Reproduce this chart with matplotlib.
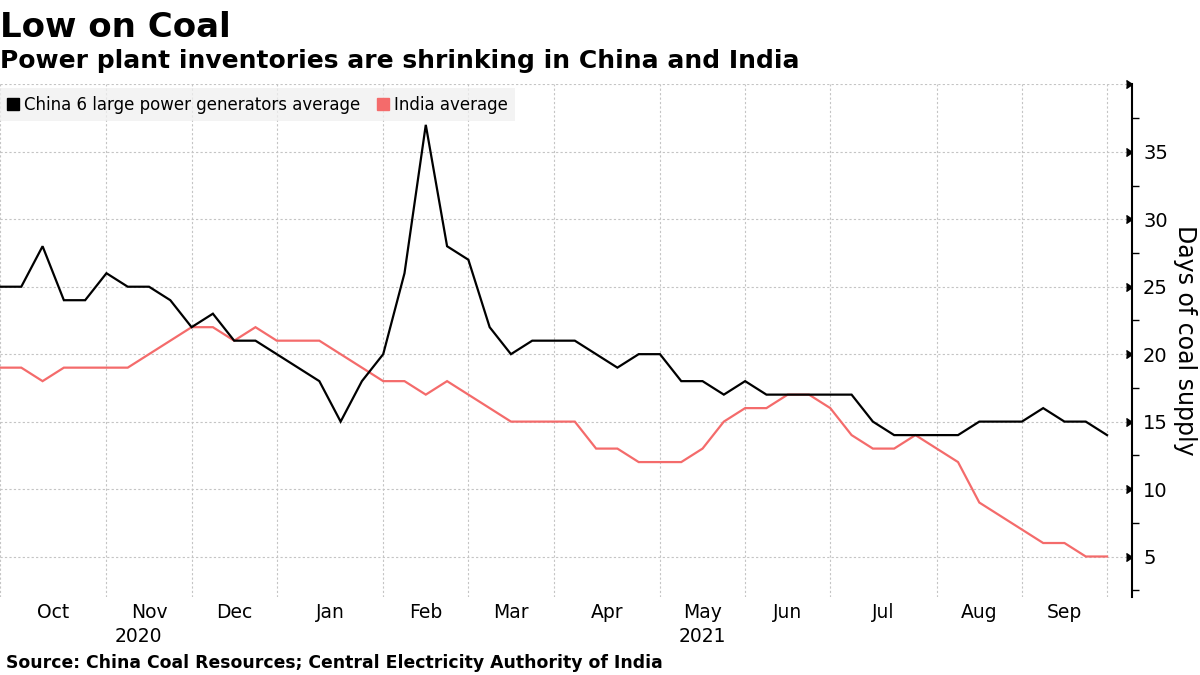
import numpy as np
import pandas as pd
import matplotlib
matplotlib.use('Agg')
import matplotlib.pyplot as plt
from matplotlib.lines import Line2D

# --- Data (weekly readings, days of coal supply) ---
START_DATE = '2020-10-02'
china = [25, 25, 28, 24, 24, 26, 25, 25, 24, 22, 23, 21, 21, 20, 19, 18, 15, 18,
         20, 26, 37, 28, 27, 22, 20, 21, 21, 21, 20, 19, 20, 20, 18, 18, 17, 18,
         17, 17, 17, 17, 17, 15, 14, 14, 14, 14, 15, 15, 15, 16, 15, 15, 14]
india = [19, 19, 18, 19, 19, 19, 19, 20, 21, 22, 22, 21, 22, 21, 21, 21, 20, 19,
         18, 18, 17, 18, 17, 16, 15, 15, 15, 15, 13, 13, 12, 12, 12, 13, 15, 16,
         16, 17, 17, 16, 14, 13, 13, 14, 13, 12, 9, 8, 7, 6, 6, 5, 5]
series_names = ['China 6 large power generators average', 'India average']
year_labels = ['2020', '2021']

BLACK = '#000000'
RED = '#f46b6b'
GRID = '#c4c4c4'

dates = pd.date_range(START_DATE, periods=len(china), freq='7D')
x = np.arange(len(dates))

# gridlines sit on the first weekly reading of each month
month_start = [0] + [i for i in range(1, len(dates)) if dates[i].month != dates[i - 1].month]
month_mid = [(a + b) / 2 for a, b in zip(month_start[:-1], month_start[1:])]
month_names = [dates[i].strftime('%b') for i in month_start[:-1]]

plt.rcParams['font.family'] = ['DejaVu Sans']

fig = plt.figure(figsize=(12, 6.75), dpi=100)
ax = fig.add_axes([0.0, 0.1156, 0.9433, 0.7594])

ax.plot(x, india, color=RED, linewidth=1.6, zorder=3, solid_joinstyle='miter')
ax.plot(x, china, color=BLACK, linewidth=1.6, zorder=4, solid_joinstyle='miter')

ax.set_xlim(0, 53.17)
ax.set_ylim(2, 40)

# grid
ax.set_xticks(month_start)
ax.set_xticklabels([])
ax.tick_params(axis='x', length=0)
ax.set_yticks(np.arange(5, 41, 5))
ax.set_yticks(np.arange(2.5, 40, 5), minor=True)
ax.grid(True, which='major', color=GRID, linestyle=(0, (2, 2)), linewidth=0.8, zorder=0)
ax.set_axisbelow(True)

for s in ['left', 'top', 'bottom']:
    ax.spines[s].set_visible(False)
ax.spines['right'].set_linewidth(1.5)

ax.yaxis.tick_right()
ax.set_yticklabels([str(v) if v < 40 else '' for v in range(5, 41, 5)])
ax.tick_params(axis='y', which='major', length=0, pad=8, labelsize=14)
ax.tick_params(axis='y', which='minor', length=5, width=1)
# small caret markers as major ticks
ax.plot([1] * 8, np.arange(5, 41, 5), transform=ax.get_yaxis_transform(),
        marker=5, markersize=5.5, color=BLACK, linestyle='none', clip_on=False)

# month and year labels
for pos, name in zip(month_mid, month_names):
    ax.text(pos, -0.031, name, transform=ax.get_xaxis_transform(),
            ha='center', va='center', fontsize=13.5)
for pos, name in zip([6.5, 33], year_labels):
    ax.text(pos, -0.078, name, transform=ax.get_xaxis_transform(),
            ha='center', va='center', fontsize=13.5)

# legend
handles = [Line2D([], [], marker='s', linestyle='none', color=BLACK, markersize=9),
           Line2D([], [], marker='s', linestyle='none', color=RED, markersize=9)]
leg = ax.legend(handles, series_names, loc='upper left', bbox_to_anchor=(0, 0.992),
                ncol=2, frameon=True, fancybox=False, fontsize=12,
                handlelength=0.7, handletextpad=0.3, columnspacing=1.0,
                borderaxespad=0, borderpad=0.45)
leg.get_frame().set_facecolor('#efefef')
leg.get_frame().set_edgecolor('none')
leg.get_frame().set_alpha(0.75)

fig.text(0.9875, 0.496, 'Days of coal supply', rotation=270, ha='center', va='center',
         fontsize=17)

fig.text(0.0, 0.945, 'Low on Coal', fontsize=24.5, fontweight='heavy', va='baseline')
fig.text(0.0, 0.899, 'Power plant inventories are shrinking in China and India',
         fontsize=18, fontweight='bold', va='baseline')
fig.text(0.005, 0.0104, 'Source: China Coal Resources; Central Electricity Authority of India',
         fontsize=12.4, fontweight='bold', va='baseline')

fig.savefig('out.png', dpi=100)
